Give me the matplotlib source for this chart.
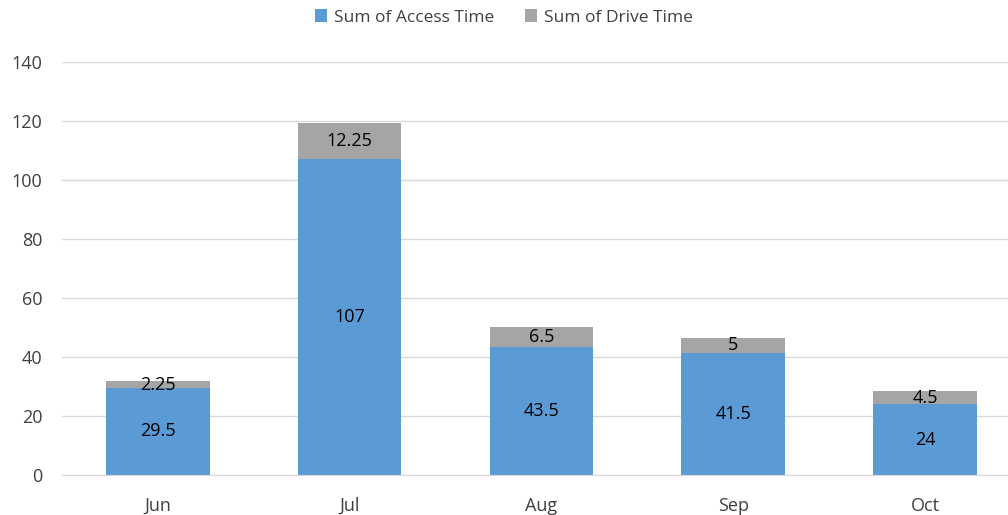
import matplotlib
matplotlib.use('Agg')
import matplotlib.pyplot as plt
import numpy as np

plt.rcParams['font.family'] = ['Open Sans', 'DejaVu Sans']

# ==================== 数据 ====================
months = ['Jun', 'Jul', 'Aug', 'Sep', 'Oct']
access_time = [29.5, 107, 43.5, 41.5, 24]
drive_time = [2.25, 12.25, 6.5, 5, 4.5]

BLUE = '#5B9BD5'
GRAY = '#A5A5A5'

fig = plt.figure(figsize=(10.08, 5.15), dpi=100)
ax = fig.add_axes([0.0615, 0.0777, 0.9385, 0.802])

x = np.arange(len(months))
w = 0.54
b1 = ax.bar(x, access_time, w, color=BLUE, label='Sum of Access Time', zorder=2)
b2 = ax.bar(x, drive_time, w, bottom=access_time, color=GRAY, label='Sum of Drive Time', zorder=2)

# 数据标签
for i in range(len(months)):
    ax.text(x[i], access_time[i] / 2, f'{access_time[i]:g}', ha='center', va='center',
            fontsize=13, color='#000000')
    ax.text(x[i], access_time[i] + drive_time[i] / 2, f'{drive_time[i]:g}', ha='center', va='center',
            fontsize=13, color='#000000')

ax.set_ylim(0, 140)
ax.set_yticks(range(0, 141, 20))
ax.set_xlim(-0.5, 4.433)
ax.set_xticks(x)
ax.set_xticklabels(months)
ax.tick_params(axis='both', length=0, labelsize=13, colors='#404040')
ax.tick_params(axis='x', pad=16)
ax.tick_params(axis='y', pad=14)
ax.yaxis.grid(True, color='#D9D9D9', linewidth=1, zorder=0)
ax.set_axisbelow(True)
for s in ['top', 'right', 'left']:
    ax.spines[s].set_visible(False)
ax.spines['bottom'].set_color('#D9D9D9')

fig.legend(handles=[b1, b2], loc='upper center', bbox_to_anchor=(0.5, 1.012), ncol=2,
           frameon=False, fontsize=12.5, handlelength=0.7, handleheight=0.7,
           columnspacing=1.8, handletextpad=0.4, labelcolor='#404040')

fig.savefig('out.png', dpi=100)
